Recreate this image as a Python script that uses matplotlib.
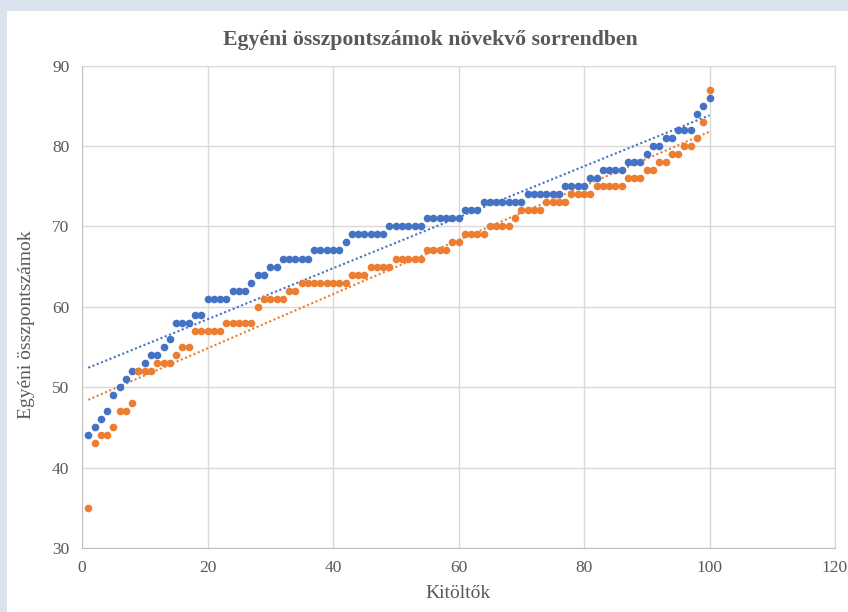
import numpy as np
import matplotlib.pyplot as plt
from matplotlib.patches import Rectangle

# sorted individual total scores, 100 respondents each
blue_scores = [44, 45, 46, 47, 49, 50, 51, 52, 52, 53,
               54, 54, 55, 56, 58, 58, 58, 59, 59, 61,
               61, 61, 61, 62, 62, 62, 63, 64, 64, 65,
               65, 66, 66, 66, 66, 66, 67, 67, 67, 67,
               67, 68, 69, 69, 69, 69, 69, 69, 70, 70,
               70, 70, 70, 70, 71, 71, 71, 71, 71, 71,
               72, 72, 72, 73, 73, 73, 73, 73, 73, 73,
               74, 74, 74, 74, 74, 74, 75, 75, 75, 75,
               76, 76, 77, 77, 77, 77, 78, 78, 78, 79,
               80, 80, 81, 81, 82, 82, 82, 84, 85, 86]
orange_scores = [35, 43, 44, 44, 45, 47, 47, 48, 52, 52,
                 52, 53, 53, 53, 54, 55, 55, 57, 57, 57,
                 57, 57, 58, 58, 58, 58, 58, 60, 61, 61,
                 61, 61, 62, 62, 63, 63, 63, 63, 63, 63,
                 63, 63, 64, 64, 64, 65, 65, 65, 65, 66,
                 66, 66, 66, 66, 67, 67, 67, 67, 68, 68,
                 69, 69, 69, 69, 70, 70, 70, 70, 71, 72,
                 72, 72, 72, 73, 73, 73, 73, 74, 74, 74,
                 74, 75, 75, 75, 75, 75, 76, 76, 76, 77,
                 77, 78, 78, 79, 79, 80, 80, 81, 83, 87]
x = np.arange(1, len(blue_scores) + 1)

title = "Egyéni összpontszámok növekvő sorrendben"
xlabel = "Kitöltők"
ylabel = "Egyéni összpontszámok"

blue = "#4472C4"
orange = "#ED7D31"
grid_col = "#D9D9D9"
text_col = "#595959"

plt.rcParams['font.family'] = ['Liberation Serif', 'DejaVu Serif']

fig = plt.figure(figsize=(8.48, 6.12), dpi=100)
fig.patch.set_facecolor("#DAE3EE")
fig.add_artist(Rectangle((7 / 848, 0), 1, 1 - 11 / 612, transform=fig.transFigure,
                         facecolor="white", edgecolor="none", zorder=-5))

ax = fig.add_axes([82 / 848, 1 - 548 / 612, (835 - 82) / 848, (548 - 65.5) / 612])
ax.set_facecolor("white")

for y, c in [(blue_scores, blue), (orange_scores, orange)]:
    ax.plot(x, y, 'o', color=c, markersize=5.5, markeredgewidth=0, zorder=3)
    k, b = np.polyfit(x, y, 1)
    ax.plot(x, k * x + b, color=c, lw=1.5, linestyle=(0, (1, 1.2)), zorder=2)

ax.set_xlim(0, 120)
ax.set_ylim(30, 90)
ax.set_xticks(range(0, 121, 20))
ax.set_yticks(range(30, 91, 10))
ax.grid(True, color=grid_col, lw=1)
ax.set_axisbelow(True)
for s in ax.spines.values():
    s.set_color(grid_col)
ax.spines['left'].set_color("#BFBFBF")
ax.spines['bottom'].set_color("#BFBFBF")
ax.tick_params(length=0, labelsize=12.5, colors=text_col, pad=9)

fig.text(430 / 848, 1 - 40 / 612, title, fontsize=15.7, fontweight='bold',
         color=text_col, ha='center', va='center')
ax.set_xlabel(xlabel, fontsize=14, color=text_col, labelpad=6)
ax.set_ylabel(ylabel, fontsize=14, color=text_col)
ax.yaxis.set_label_coords((35 - 82) / 753, (548 - 325) / 482.5)

fig.savefig("out.png", dpi=100, facecolor=fig.get_facecolor())
